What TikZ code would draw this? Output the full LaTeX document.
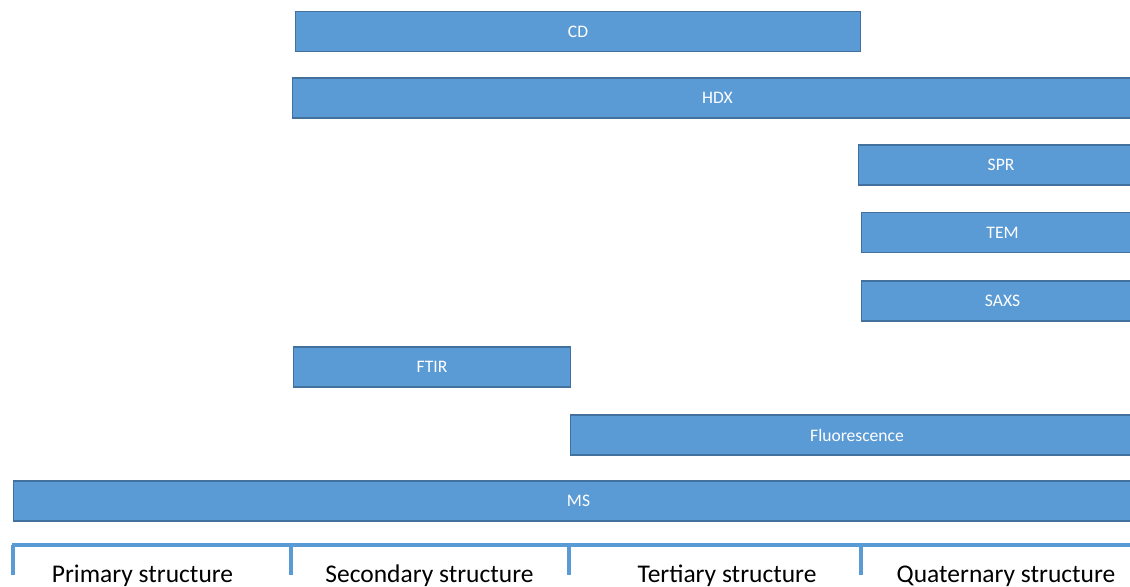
\documentclass[tikz,border=0pt]{standalone}
\usepackage{fontspec}
\setmainfont{Carlito}
\usetikzlibrary{positioning}

\definecolor{barblue}{HTML}{5B9BD5}
\definecolor{bardark}{HTML}{41719C}

\tikzset{
  bar/.style={rectangle, draw=bardark, line width=0.6pt, fill=barblue, text=white,
    font=\fontsize{10}{11}\selectfont, anchor=west, minimum height=8mm, inner sep=0pt},
  axisline/.style={draw=barblue, line width=2.2pt},
  level/.style={font=\fontsize{14.5}{16}\selectfont, anchor=base}
}

\begin{document}
\begin{tikzpicture}[x=0.2mm, y=-0.2mm]
        \useasboundingbox (0,0) rectangle (1130,587);
        % Technique bars
        \node[bar, minimum width=113mm] (cd) at (295,31.5) {CD};
        \node[bar, minimum width=170mm] (hdx) at (292,98) {HDX};
        \node[bar, minimum width=57mm] (spr) at (858,165) {SPR};
        \node[bar, minimum width=56.4mm] (tem) at (861,232.5) {TEM};
        \node[bar, minimum width=56.4mm] (saxs) at (861,301) {SAXS};
        \node[bar, minimum width=55.4mm] (ftir) at (293,367) {FTIR};
        \node[bar, minimum width=114.6mm] (fluo) at (570,435) {Fluorescence};
        \node[bar, minimum width=226mm] (ms) at (13,501) {MS};
        
        % Axis
        \coordinate (a0) at (12,545);
        \coordinate (a4) at (1140,545);
        \draw[axisline] (a0) -- (a4);
        \foreach \x in {13,291,569,861}
          \draw[axisline] (\x,545) -- (\x,575);
        
        % Structure levels
        \node[level] (primary) at (142.5,582) {Primary structure};
        \node[level] (secondary) at (429.5,582) {Secondary structure};
        \node[level] (tertiary) at (727,582) {Tertiary structure};
        \node[level] (quaternary) at (1006,582) {Quaternary structure};
      \end{tikzpicture}
\end{document}
